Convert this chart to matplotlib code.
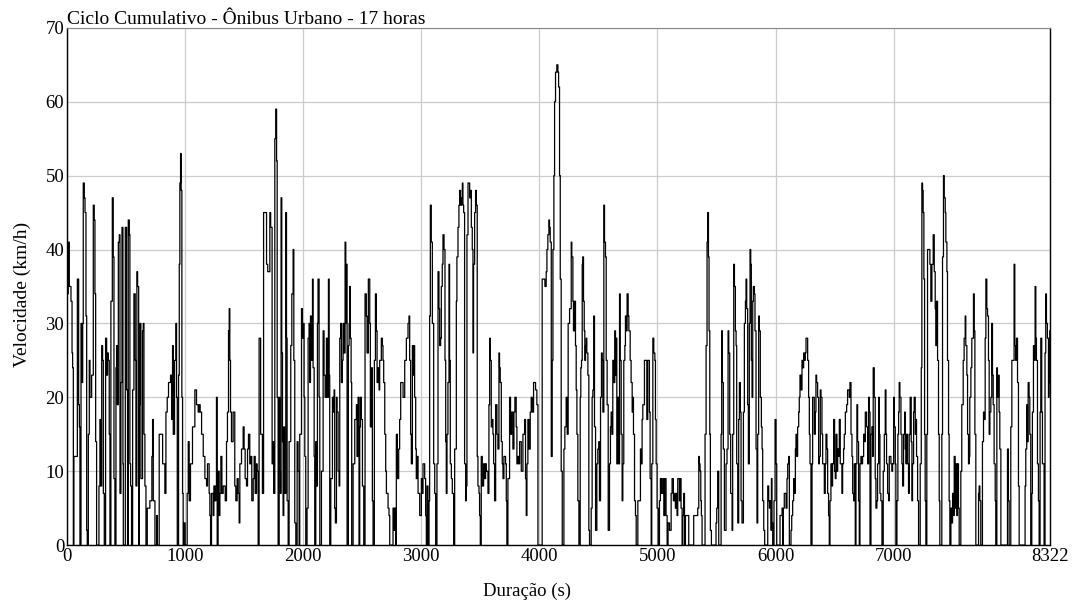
import numpy as np
import matplotlib
matplotlib.use("Agg")
import matplotlib.pyplot as plt

# Perfil de velocidade: (tempo [s], velocidade [km/h])
trecho_1 = [(0, 34), (11, 41), (20, 35), (34, 33), (43, 26), (48, 24), (54, 0), (59, 12), (76, 12), (88, 36),
            (99, 19), (105, 16), (110, 0), (119, 30), (127, 22), (133, 30), (138, 49), (147, 47), (153, 45),
            (161, 31), (167, 2), (172, 0), (181, 15), (189, 25), (195, 20), (209, 23), (223, 46), (231, 44),
            (237, 34), (243, 14), (251, 0), (271, 8), (279, 17), (285, 8), (294, 27), (302, 25), (308, 7),
            (316, 0), (327, 28), (336, 23), (344, 26), (350, 25), (358, 15), (364, 0), (372, 33), (384, 47),
            (392, 39), (398, 9), (406, 0), (415, 24), (420, 27), (426, 19), (435, 41), (443, 42), (449, 7),
            (457, 22), (466, 43), (474, 11), (477, 0), (494, 43), (505, 21), (513, 0), (519, 44), (528, 42),
            (533, 11), (539, 8), (547, 0), (556, 21), (567, 34), (578, 25), (584, 8), (592, 37), (598, 35),
            (607, 0), (612, 19), (618, 30), (626, 9), (640, 29), (646, 30), (652, 15), (660, 8), (669, 0),
            (680, 5), (702, 6), (719, 12), (725, 17), (731, 6), (745, 0), (759, 4), (765, 0), (781, 15),
            (801, 15), (810, 11), (821, 11), (829, 7), (838, 18), (849, 20), (860, 22)]
trecho_2 = [(866, 22), (877, 23), (886, 17), (894, 27), (900, 15), (911, 25), (922, 30), (928, 20), (934, 0),
            (945, 23), (951, 38), (956, 49), (962, 53), (967, 48), (973, 20), (979, 7), (984, 0), (990, 3),
            (1001, 0), (1018, 7), (1027, 14), (1035, 6), (1046, 11), (1063, 16), (1083, 21), (1097, 19),
            (1111, 18), (1120, 19), (1128, 18), (1140, 15), (1154, 12), (1168, 9), (1182, 8), (1190, 11),
            (1204, 7), (1210, 4), (1216, 0), (1224, 7), (1238, 4), (1244, 8), (1252, 6), (1261, 8), (1266, 20),
            (1272, 0), (1280, 10), (1289, 4), (1295, 7), (1303, 12), (1312, 7), (1323, 8), (1340, 6),
            (1351, 14), (1359, 18), (1368, 29), (1374, 32), (1379, 25), (1385, 18), (1393, 14), (1407, 18),
            (1421, 8), (1430, 6), (1441, 9), (1450, 7), (1458, 3), (1464, 11), (1478, 13), (1492, 16),
            (1500, 13), (1509, 9), (1520, 8), (1529, 13), (1537, 15), (1548, 11), (1557, 12), (1565, 6),
            (1577, 9), (1585, 12), (1594, 7), (1605, 11), (1610, 10)]
trecho_3 = [(1619, 0), (1627, 28), (1640, 15), (1655, 7), (1665, 45), (1690, 38), (1700, 37), (1718, 45),
            (1725, 43), (1737, 11), (1745, 14), (1750, 7), (1760, 55), (1768, 59), (1775, 52), (1780, 20),
            (1788, 0), (1797, 20), (1802, 10), (1808, 7), (1813, 47), (1819, 26), (1825, 14), (1830, 4),
            (1836, 16), (1842, 7), (1853, 45), (1859, 28), (1864, 6), (1873, 0), (1881, 14), (1895, 27),
            (1904, 34), (1915, 40), (1921, 25), (1929, 3), (1938, 0), (1949, 14), (1957, 10), (1966, 0),
            (1971, 15), (1986, 32), (1994, 28), (2000, 30), (2008, 20), (2014, 12), (2022, 0), (2033, 5),
            (2042, 28), (2050, 30), (2056, 22), (2062, 31), (2070, 25), (2079, 36), (2084, 24), (2093, 12),
            (2098, 0), (2107, 14), (2112, 8), (2121, 30), (2126, 36), (2135, 20), (2141, 0), (2155, 10),
            (2169, 29), (2177, 23), (2186, 20), (2197, 28), (2205, 20), (2214, 36), (2220, 23), (2225, 0),
            (2234, 9), (2248, 20), (2256, 18), (2262, 21), (2267, 5), (2273, 3), (2282, 20), (2287, 18),
            (2296, 10), (2304, 8), (2310, 28), (2318, 30), (2324, 22), (2332, 25), (2338, 30), (2346, 26),
            (2355, 41), (2361, 30), (2366, 38), (2372, 0), (2383, 27), (2389, 30), (2394, 35), (2400, 28),
            (2406, 22), (2411, 0), (2423, 11), (2437, 17), (2451, 19), (2456, 12), (2465, 20), (2473, 0),
            (2479, 16), (2485, 20), (2493, 17), (2502, 8), (2513, 0), (2524, 34), (2535, 31), (2541, 26),
            (2552, 36), (2564, 30)]
trecho_4 = [(2569, 16), (2578, 24), (2586, 6), (2592, 0), (2603, 25), (2612, 34), (2620, 29), (2626, 22),
            (2634, 24), (2643, 21), (2648, 25), (2662, 28), (2671, 27), (2676, 25), (2682, 22), (2691, 15),
            (2699, 10), (2705, 7), (2719, 5), (2727, 4), (2733, 0), (2755, 0), (2761, 5), (2769, 2), (2775, 5),
            (2784, 0), (2789, 15), (2798, 9), (2809, 13), (2817, 17), (2826, 22), (2840, 22), (2846, 20),
            (2860, 25), (2874, 28), (2888, 30), (2896, 31), (2902, 25), (2910, 15), (2916, 11), (2925, 27),
            (2930, 23), (2936, 27), (2944, 20), (2953, 13), (2958, 9), (2964, 12), (2973, 7), (2987, 4),
            (3001, 9), (3009, 7), (3015, 11), (3029, 9), (3037, 4), (3043, 0), (3049, 8), (3057, 0), (3066, 6),
            (3071, 31), (3077, 46), (3085, 41), (3094, 30), (3105, 11), (3114, 7), (3122, 0), (3133, 11),
            (3142, 37), (3150, 32), (3156, 27), (3164, 28), (3170, 35), (3178, 38), (3184, 42), (3193, 40),
            (3201, 25), (3207, 14), (3212, 7), (3218, 15), (3226, 22), (3235, 38), (3240, 25), (3246, 11),
            (3255, 9), (3263, 7), (3274, 0), (3283, 13), (3297, 33), (3302, 39), (3311, 43), (3319, 46),
            (3325, 48), (3333, 46), (3342, 47), (3348, 49), (3353, 46), (3359, 45), (3367, 11), (3376, 6),
            (3381, 8), (3387, 42), (3396, 49), (3404, 49), (3410, 47)]
trecho_5 = [(3418, 48), (3424, 43), (3432, 40), (3438, 26), (3443, 38), (3452, 45), (3460, 48), (3466, 46),
            (3474, 12), (3480, 8), (3489, 7), (3494, 4), (3500, 0), (3508, 12), (3517, 8), (3528, 11),
            (3537, 9), (3545, 11), (3551, 10), (3565, 7), (3573, 19), (3579, 28), (3584, 25), (3593, 16),
            (3601, 17), (3607, 15), (3613, 11), (3621, 6), (3630, 19), (3641, 15), (3649, 13), (3658, 26),
            (3663, 24), (3669, 22), (3678, 14), (3686, 11), (3692, 9), (3700, 12), (3714, 11), (3720, 6),
            (3725, 0), (3734, 9), (3748, 20), (3756, 15), (3765, 18), (3776, 13), (3785, 18), (3793, 20),
            (3804, 16), (3810, 11), (3818, 12), (3827, 11), (3833, 14), (3847, 10), (3861, 15), (3875, 17),
            (3883, 9), (3889, 4), (3895, 11), (3903, 17), (3912, 13), (3923, 18), (3931, 20), (3940, 18),
            (3951, 22), (3968, 21), (3979, 19), (3988, 0), (4016, 0), (4024, 36), (4036, 36), (4047, 35),
            (4058, 37), (4064, 40), (4072, 42), (4081, 44), (4086, 43), (4092, 41), (4101, 12), (4109, 25),
            (4115, 40), (4123, 50), (4129, 60), (4137, 64), (4148, 65), (4157, 64), (4163, 62), (4171, 50),
            (4177, 36), (4185, 10), (4194, 0), (4202, 0), (4208, 13), (4216, 16), (4227, 20), (4236, 15),
            (4244, 30), (4256, 32)]
trecho_6 = [(4264, 32), (4270, 41), (4275, 39), (4284, 33), (4289, 29), (4298, 33), (4306, 27), (4312, 21),
            (4318, 15), (4326, 6), (4335, 0), (4346, 20), (4351, 24), (4357, 25), (4363, 38), (4368, 39),
            (4374, 33), (4380, 29), (4385, 25), (4391, 27), (4397, 28), (4402, 26), (4411, 23), (4419, 2),
            (4425, 0), (4439, 5), (4447, 20), (4453, 21), (4461, 31), (4467, 16), (4476, 2), (4487, 11),
            (4495, 13), (4504, 14), (4509, 6), (4518, 20), (4526, 26), (4532, 25), (4538, 18), (4546, 46),
            (4552, 41), (4560, 39), (4566, 25), (4574, 19), (4583, 2), (4594, 11), (4602, 16), (4608, 18),
            (4614, 15), (4622, 25), (4631, 22), (4639, 29), (4645, 23), (4650, 28), (4656, 11), (4664, 20),
            (4673, 11), (4679, 34), (4684, 25), (4693, 15), (4701, 6), (4707, 11), (4715, 25), (4724, 27),
            (4729, 31), (4735, 29), (4743, 34), (4752, 31), (4758, 29), (4769, 25), (4777, 22), (4786, 18),
            (4791, 20), (4797, 15), (4806, 6), (4814, 4), (4820, 0), (4834, 6), (4848, 6), (4856, 13),
            (4862, 11), (4870, 17), (4876, 19), (4890, 25), (4899, 25), (4910, 17), (4918, 25), (4927, 25),
            (4932, 18), (4938, 9), (4947, 0), (4952, 11), (4961, 28), (4969, 26), (4978, 25), (4983, 17),
            (4989, 11), (4997, 5), (5006, 0), (5017, 6), (5025, 9), (5034, 7), (5045, 9), (5054, 4), (5062, 9),
            (5073, 4), (5082, 0), (5090, 3), (5102, 2)]
trecho_7 = [(5116, 7), (5124, 9), (5135, 6), (5144, 7), (5152, 5), (5158, 7), (5166, 4), (5172, 9), (5186, 6),
            (5192, 9), (5200, 5), (5209, 0), (5214, 4), (5223, 7), (5229, 0), (5237, 4), (5257, 4), (5265, 0),
            (5299, 0), (5307, 4), (5327, 4), (5341, 5), (5350, 12), (5355, 11), (5361, 10), (5367, 6),
            (5372, 4), (5378, 0), (5398, 0), (5403, 15), (5412, 27), (5420, 41), (5426, 45), (5432, 39),
            (5437, 29), (5443, 15), (5448, 2), (5457, 0), (5482, 0), (5496, 3), (5502, 5), (5510, 10),
            (5519, 0), (5530, 0), (5539, 15), (5544, 29), (5550, 22), (5558, 13), (5567, 2), (5581, 11),
            (5589, 13), (5598, 29), (5604, 26), (5612, 15), (5620, 7), (5632, 2), (5637, 15), (5646, 38),
            (5652, 35), (5660, 29), (5666, 27), (5671, 11), (5680, 3), (5688, 17), (5694, 22), (5702, 18),
            (5708, 6), (5716, 3), (5728, 18), (5736, 30), (5745, 33), (5750, 36), (5756, 32), (5764, 19),
            (5770, 11), (5778, 30), (5784, 40), (5790, 38), (5795, 25), (5801, 20), (5807, 33), (5812, 35),
            (5821, 34), (5826, 29), (5835, 13), (5843, 3), (5849, 15), (5857, 31), (5863, 29), (5871, 20),
            (5880, 16), (5886, 13), (5891, 6), (5900, 2), (5908, 0), (5925, 0), (5934, 8), (5942, 6),
            (5948, 5)]
trecho_8 = [(5957, 6), (5962, 2), (5965, 9), (5970, 3), (5976, 0), (5987, 6), (5996, 17), (6004, 11),
            (6010, 0), (6027, 0), (6038, 4), (6046, 4), (6055, 5), (6060, 0), (6066, 5), (6074, 7), (6083, 7),
            (6089, 5), (6097, 9), (6103, 11), (6111, 12), (6117, 0), (6131, 2), (6137, 4), (6145, 6),
            (6153, 9), (6159, 7), (6168, 13), (6173, 15), (6179, 12), (6187, 16), (6196, 18), (6201, 20),
            (6207, 23), (6216, 21), (6224, 25), (6230, 24), (6238, 26), (6244, 25), (6252, 26), (6258, 28),
            (6266, 28), (6272, 25), (6280, 20), (6286, 15), (6292, 11), (6300, 0), (6309, 11), (6314, 20),
            (6323, 20), (6328, 15), (6337, 18), (6342, 23), (6348, 22), (6356, 20), (6365, 11), (6371, 12),
            (6379, 21), (6385, 20), (6393, 15), (6399, 11), (6413, 7), (6421, 11), (6427, 15), (6435, 13),
            (6441, 7), (6449, 4), (6455, 0), (6461, 6), (6469, 11), (6478, 8), (6483, 11), (6492, 17),
            (6500, 10), (6506, 9), (6512, 15), (6520, 10), (6526, 13), (6534, 12), (6540, 17), (6548, 11),
            (6554, 11), (6562, 7), (6568, 11), (6576, 13), (6582, 15), (6591, 18), (6602, 19), (6610, 21),
            (6619, 21), (6624, 20), (6630, 22), (6639, 15), (6647, 12), (6653, 7), (6661, 6), (6667, 11),
            (6675, 0), (6681, 11), (6689, 19), (6695, 14), (6703, 6), (6709, 0), (6715, 11), (6723, 12),
            (6731, 11), (6737, 12), (6746, 15), (6754, 14), (6760, 18), (6771, 16), (6780, 11), (6788, 20),
            (6794, 18)]
trecho_9 = [(6800, 0), (6808, 15), (6816, 16), (6822, 12), (6827, 24), (6836, 20), (6844, 9), (6850, 5),
            (6858, 6), (6864, 11), (6873, 20), (6878, 15), (6884, 7), (6892, 6), (6901, 0), (6912, 10),
            (6921, 15), (6929, 21), (6935, 15), (6940, 11), (6949, 7), (6957, 6), (6963, 12), (6971, 12),
            (6977, 11), (6985, 10), (6991, 11), (7000, 20), (7005, 16), (7014, 11), (7019, 0), (7028, 6),
            (7036, 15), (7042, 18), (7047, 22), (7053, 20), (7062, 15), (7070, 11), (7076, 8), (7084, 15),
            (7093, 18), (7098, 13), (7104, 11), (7109, 15), (7118, 11), (7126, 7), (7132, 15), (7140, 20),
            (7149, 14), (7155, 6), (7160, 11), (7169, 18), (7174, 20), (7183, 15), (7188, 17), (7194, 12),
            (7203, 6), (7211, 0), (7225, 11), (7234, 24), (7239, 49), (7245, 48), (7250, 45), (7256, 36),
            (7262, 15), (7267, 6), (7273, 0), (7281, 15), (7287, 40), (7293, 40), (7301, 40), (7307, 38),
            (7315, 33), (7324, 38), (7335, 42), (7344, 37), (7352, 32), (7358, 27), (7363, 33), (7372, 25),
            (7380, 15), (7386, 6), (7391, 0), (7408, 15), (7414, 39), (7422, 50), (7428, 47), (7437, 45),
            (7442, 41), (7451, 37), (7456, 25), (7465, 15), (7470, 6), (7476, 0), (7485, 5), (7493, 3),
            (7499, 7), (7507, 4), (7513, 12), (7521, 5), (7527, 11), (7535, 4), (7541, 11), (7549, 5),
            (7555, 0), (7569, 10), (7577, 19), (7589, 25), (7597, 28), (7606, 31), (7611, 27), (7620, 23),
            (7626, 15), (7634, 11), (7640, 12)]
trecho_10 = [(7645, 20), (7654, 24), (7662, 28), (7668, 28), (7676, 34), (7682, 29), (7688, 15), (7696, 0),
             (7710, 0), (7719, 7), (7724, 8), (7730, 6), (7738, 0), (7752, 14), (7761, 18), (7766, 17),
             (7775, 28), (7781, 36), (7789, 32), (7795, 31), (7803, 25), (7809, 15), (7815, 18), (7823, 20),
             (7831, 30), (7837, 23), (7843, 19), (7851, 11), (7860, 6), (7865, 0), (7874, 24), (7879, 20),
             (7888, 23), (7893, 18), (7899, 13), (7908, 0), (7950, 0), (7964, 13), (7972, 6), (7978, 0),
             (7992, 16), (8001, 25), (8006, 25), (8015, 25), (8020, 38), (8026, 27), (8034, 25), (8040, 28),
             (8049, 22), (8057, 8), (8063, 0), (8105, 0), (8113, 8), (8119, 13), (8127, 19), (8133, 14),
             (8139, 22), (8147, 20), (8153, 15), (8161, 0), (8170, 7), (8175, 18), (8184, 27), (8189, 25),
             (8198, 35), (8204, 28), (8209, 25), (8218, 11), (8226, 6), (8232, 0), (8240, 18), (8246, 28),
             (8254, 18), (8260, 11), (8274, 0), (8282, 26), (8288, 34), (8294, 30), (8302, 28), (8311, 20),
             (8316, 22), (8322, 29)]

xticks = [0, 1000, 2000, 3000, 4000, 5000, 6000, 7000, 8322]
yticks = [0, 10, 20, 30, 40, 50, 60, 70]

pontos = np.array(trecho_1 + trecho_2 + trecho_3 + trecho_4 + trecho_5 +
                  trecho_6 + trecho_7 + trecho_8 + trecho_9 + trecho_10, dtype=float)
tempo = pontos[:, 0]
velocidade = pontos[:, 1]

plt.rcParams['font.family'] = ['Liberation Serif', 'DejaVu Serif']

fig = plt.figure(figsize=(10.8, 6.05), dpi=100)
ax = fig.add_axes([0.062, 0.099, 0.910, 0.855])

ax.plot(tempo, velocidade, color='black', lw=0.9, drawstyle='steps-post')

ax.set_xlim(0, 8322)
ax.set_ylim(0, 70)
ax.set_xticks(xticks)
ax.set_yticks(yticks)
ax.tick_params(axis='both', length=0, labelsize=13.5, pad=2)
ax.grid(True, color='#cccccc', lw=0.9)
ax.set_axisbelow(True)

for side in ['left', 'bottom', 'right']:
    ax.spines[side].set_color('black')
    ax.spines[side].set_linewidth(1.0)
ax.spines['top'].set_color('#888888')

ax.set_xlabel("Duração (s)", fontsize=13.5)
ax.xaxis.set_label_coords(0.468, -0.072)
ax.set_ylabel("Velocidade (km/h)", fontsize=14)
ax.yaxis.set_label_coords(-0.037, 0.484)
ax.set_title("Ciclo Cumulativo - Ônibus Urbano - 17 horas", loc='left', fontsize=14, pad=0)

fig.savefig("out.png", dpi=100)
